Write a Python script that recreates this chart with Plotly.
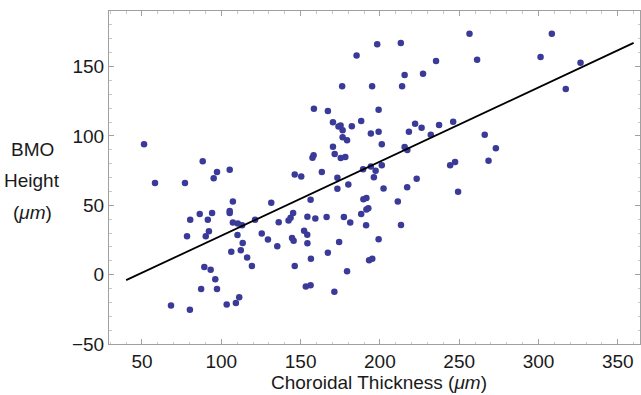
import plotly.graph_objects as go

# Choroidal thickness (um) vs BMO height (um)
choroidal_thickness = [
    51.3, 88.3, 97.3, 105.3, 95.2, 158.4, 167.2, 185.3, 176.2, 170.4,
    173.9, 175.2, 176.5, 182.3, 188.2, 176.5, 179.3, 170.4, 171.5, 175.3,
    178.2, 157.5, 158.2, 163.4, 146.3, 150.4, 173.2, 189.4, 256.5, 308.4,
    198.3, 213.2, 235.4, 261.3, 301.3, 326.5, 215.6, 227.2, 195.1, 214.0,
    317.2, 199.2, 222.2, 226.3, 237.3, 246.2, 194.3, 199.2, 218.3, 232.1,
    201.2, 266.1, 273.1, 215.6, 217.3, 201.2, 194.3, 197.3, 244.3, 247.4,
    268.5, 196.2, 223.2, 58.2, 77.1, 173.2, 180.1, 80.4, 78.4, 86.4,
    91.5, 94.2, 90.2, 92.2, 107.3, 105.3, 105.3, 107.3, 110.4, 113.1,
    110.2, 121.3, 113.5, 106.3, 112.3, 116.3, 119.3, 131.5, 125.5, 129.4,
    136.2, 135.3, 142.4, 143.7, 145.3, 144.6, 145.6, 152.2, 154.2, 154.3,
    156.3, 154.3, 159.3, 156.5, 146.3, 166.4, 167.2, 174.3, 177.3, 181.3,
    179.3, 153.3, 156.3, 171.3, 89.3, 93.3, 96.2, 87.3, 97.3, 68.3,
    80.2, 103.4, 109.2, 111.3, 189.6, 191.5, 188.2, 191.5, 192.7, 191.3,
    193.2, 202.3, 217.2, 249.3, 211.3, 213.3, 199.2, 195.2,
]
bmo_height = [
    94.0, 81.8, 73.9, 75.5, 69.4, 119.6, 118.0, 157.9, 135.8, 109.9,
    106.7, 107.4, 104.0, 107.0, 110.8, 99.0, 96.9, 92.1, 86.9, 84.0,
    84.7, 84.2, 86.0, 73.9, 72.1, 70.8, 69.9, 76.0, 173.6, 173.6,
    166.0, 166.9, 154.0, 154.9, 156.8, 152.7, 143.9, 144.8, 135.8, 135.8,
    133.8, 118.9, 108.8, 105.8, 107.9, 110.1, 101.8, 102.9, 103.0, 100.9,
    94.0, 100.9, 91.1, 91.9, 89.9, 78.9, 77.9, 74.8, 78.9, 81.1,
    82.0, 70.1, 69.1, 66.0, 66.0, 61.9, 64.9, 39.6, 27.6, 43.7,
    39.6, 44.5, 27.7, 31.3, 52.7, 45.9, 44.4, 37.6, 36.8, 35.6,
    28.6, 39.6, 22.8, 16.5, 17.5, 12.4, 6.3, 51.8, 29.6, 25.4,
    37.8, 20.5, 39.0, 41.0, 44.4, 26.4, 24.5, 31.7, 28.8, 22.7,
    54.0, 41.7, 40.5, 11.5, 6.3, 41.6, 15.7, 23.5, 41.6, 37.6,
    2.5, -8.6, -7.6, -12.4, 5.5, 3.6, -3.4, -10.3, -10.3, -22.3,
    -25.3, -21.6, -20.4, -16.3, 54.3, 55.2, 43.7, 46.9, 47.8, 35.6,
    10.4, 62.0, 62.9, 59.7, 52.7, 35.8, 25.5, 11.5,
]

# Regression line end points
fit_x = [40, 360]
fit_y = [-4, 167]

x_ticks = [50, 100, 150, 200, 250, 300, 350]
y_ticks = [-50, 0, 50, 100, 150]
y_tick_labels = ["\u221250", "0", "50", "100", "150"]

FONT = "Liberation Sans, Arial, Helvetica, sans-serif"
POINT_COLOR = "rgb(58,58,152)"
FRAME = "#a0a0a0"
TEXT = "#1a1a1a"

# plot-area pixel geometry (641 x 395 canvas)
L, R, T, B = 109, 640, 11, 344
PW, PH = R - L, B - T

fig = go.Figure()
fig.add_trace(go.Scatter(
    x=choroidal_thickness, y=bmo_height, mode="markers",
    marker=dict(color=POINT_COLOR, size=6.5, line=dict(width=0)),
    showlegend=False, hoverinfo="x+y",
))
fig.add_trace(go.Scatter(
    x=fit_x, y=fit_y, mode="lines",
    line=dict(color="black", width=1.8),
    showlegend=False, hoverinfo="skip",
))

axis_common = dict(
    showgrid=False, zeroline=False, showline=True, linecolor=FRAME,
    linewidth=1, mirror="ticks", ticks="inside", ticklen=5, tickcolor=FRAME,
    tickwidth=1, tickfont=dict(family=FONT, size=19, color=TEXT),
)

fig.update_xaxes(
    range=[29.2, 364], tickvals=x_ticks, ticktext=[str(v) for v in x_ticks],
    minor=dict(ticks="inside", ticklen=2.5, dtick=10, tickcolor="#c8c8c8"),
    **axis_common,
)
fig.update_yaxes(
    range=[-50, 190], tickvals=y_ticks, ticktext=y_tick_labels,
    minor=dict(ticks="inside", ticklen=2.5, dtick=10, tickcolor="#c8c8c8"),
    **axis_common,
)


def ann(text, px, py, size=19):
    return dict(text=text, xref="paper", yref="paper",
                x=(px - L) / PW, y=(B - py) / PH,
                xanchor="center", yanchor="middle", showarrow=False,
                font=dict(family=FONT, size=size, color=TEXT))


fig.update_layout(
    width=641, height=395,
    margin=dict(l=L, r=641 - R, t=T, b=395 - B),
    plot_bgcolor="white", paper_bgcolor="white",
    font=dict(family=FONT, color="black"),
    annotations=[
        ann("Choroidal Thickness (<i>\u03bcm</i>)", 379, 382),
        ann("BMO", 32, 149),
        ann("Height", 32, 180),
        ann("(<i>\u03bcm</i>)", 32, 212),
    ],
)

# remove the browser's default 8px body margin so the figure sits at (0, 0)
fig.write_html(
    "out.html",
    config={"displayModeBar": False},
    post_script="document.body.style.margin='0';document.body.style.overflow='hidden';",
)
